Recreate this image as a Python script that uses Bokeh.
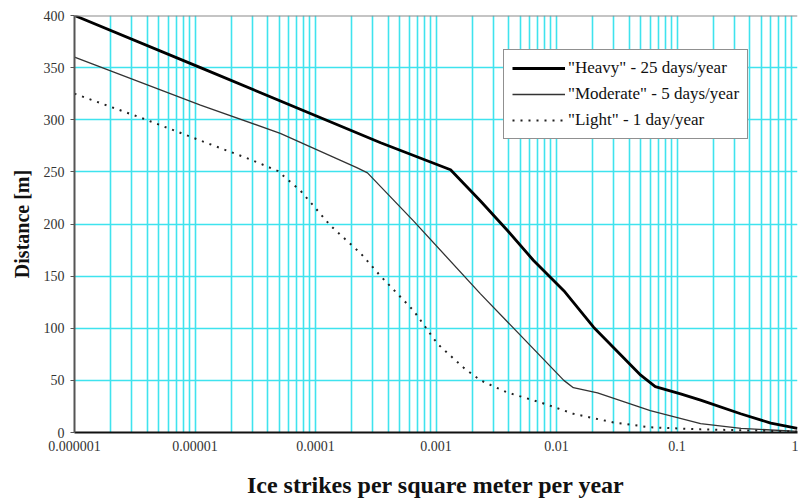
from bokeh.plotting import figure
from bokeh.models import (FixedTicker, CustomJSTickFormatter, Span, Legend, LegendItem)
from bokeh.embed import file_html
from bokeh.resources import INLINE

# ---- data ----
heavy_x = [1e-6, 1.11e-5, 3.47e-4, 1.32e-3, 2.34e-3, 3.9e-3, 6.45e-3, 1.15e-2,
           2.03e-2, 5.0e-2, 6.6e-2, 0.107, 0.157, 0.337, 0.6, 1.0]
heavy_y = [400, 350, 278, 252, 222, 194, 165, 136, 101, 55, 44, 37, 31, 18, 9, 4]

moderate_x = [1e-6, 1.11e-5, 5.1e-5, 2.2e-4, 2.7e-4, 6.5e-4, 2.34e-3, 1.15e-2,
              1.38e-2, 2.19e-2, 6.0e-2, 0.157, 0.34, 1.0]
moderate_y = [360, 314, 287, 254, 249, 203, 133, 50, 43, 38, 21, 8.6, 4, 1]

light_x = [1e-6, 3.74e-6, 1.11e-5, 2.73e-5, 4.84e-5, 7.5e-5, 1.33e-4, 2.36e-4,
           3.47e-4, 6.5e-4, 1.03e-3, 1.7e-3, 2.34e-3, 3.9e-3, 7.3e-3, 1.38e-2,
           2.97e-2, 6.0e-2, 0.157, 1.0]
light_y = [325, 301, 280, 263, 251, 232, 198.5, 172, 150, 117, 85, 62, 50, 38.4,
           29, 18, 9.6, 5, 3, 1]

series_labels = ['"Heavy" - 25 days/year', '"Moderate" - 5 days/year', '"Light" - 1 day/year']

x_ticks = [1e-6, 1e-5, 1e-4, 1e-3, 1e-2, 1e-1, 1.0]
x_tick_labels = ["0.000001", "0.00001", "0.0001", "0.001", "0.01", "0.1", "1"]
x_minor = [m * d for d in x_ticks[:-1] for m in range(2, 10)]
y_ticks = [0, 50, 100, 150, 200, 250, 300, 350, 400]

x_title = "Ice strikes per square meter per year"
y_title = "Distance [m]"

SERIF = "Liberation Serif"
CYAN = "#3fe3ee"

p = figure(width=798, height=502, x_axis_type="log",
           x_range=(1e-6, 1.0), y_range=(0, 400),
           output_backend="svg", toolbar_location=None,
           min_border_left=74, min_border_right=1, min_border_top=15,
           min_border_bottom=70)
p.outline_line_color = None
p.background_fill_color = "white"
p.border_fill_color = "white"

xt = FixedTicker(ticks=x_ticks, minor_ticks=x_minor)
p.xaxis.ticker = xt
p.xgrid.ticker = xt
p.xaxis.formatter = CustomJSTickFormatter(
    args=dict(vals=x_ticks, labs=x_tick_labels),
    code="""
    let best = 0, bd = 1e9;
    for (let i = 0; i < vals.length; i++) {
        const d = Math.abs(Math.log10(vals[i]) - Math.log10(tick));
        if (d < bd) { bd = d; best = i; }
    }
    return labs[best];
    """)
yt = FixedTicker(ticks=y_ticks)
p.yaxis.ticker = yt
p.ygrid.ticker = yt

# grids
p.xgrid.grid_line_color = CYAN
p.xgrid.grid_line_width = 1.6
p.xgrid.minor_grid_line_color = CYAN
p.xgrid.minor_grid_line_width = 1.6
p.ygrid.grid_line_color = CYAN
p.ygrid.grid_line_width = 1.6

# axes
p.xaxis.axis_line_color = "#111111"
p.xaxis.axis_line_width = 2
p.xaxis.major_tick_line_color = None
p.xaxis.minor_tick_line_color = None
p.xaxis.major_label_text_font = SERIF
p.xaxis.major_label_text_font_size = "14px"
p.xaxis.major_label_text_color = "#333333"
p.xaxis.major_label_standoff = 2
p.xaxis.axis_label = x_title
p.xaxis.axis_label_text_font = SERIF
p.xaxis.axis_label_text_font_size = "24px"
p.xaxis.axis_label_text_font_style = "bold"
p.xaxis.axis_label_text_color = "#111111"
p.xaxis.axis_label_standoff = 18

p.yaxis.axis_line_color = "#555555"
p.yaxis.axis_line_width = 2
p.yaxis.major_tick_line_color = "#555555"
p.yaxis.major_tick_in = 0
p.yaxis.major_tick_out = 4
p.yaxis.minor_tick_line_color = None
p.yaxis.major_label_text_font = SERIF
p.yaxis.major_label_text_font_size = "14px"
p.yaxis.major_label_text_color = "#333333"
p.yaxis.major_label_standoff = 6
p.yaxis.axis_label = y_title
p.yaxis.axis_label_text_font = SERIF
p.yaxis.axis_label_text_font_size = "20px"
p.yaxis.axis_label_text_font_style = "bold"
p.yaxis.axis_label_text_color = "#111111"
p.yaxis.axis_label_standoff = 8

# top frame line
p.add_layout(Span(location=400, dimension="width", line_color="#8a8a8a", line_width=2))

r_h = p.line(heavy_x, heavy_y, line_color="#000000", line_width=2.8)
r_m = p.line(moderate_x, moderate_y, line_color="#333333", line_width=1.3)
r_l = p.line(light_x, light_y, line_color="#222222", line_width=2, line_dash="2 6")

legend = Legend(items=[LegendItem(label=series_labels[0], renderers=[r_h]),
                       LegendItem(label=series_labels[1], renderers=[r_m]),
                       LegendItem(label=series_labels[2], renderers=[r_l])],
                location=(429, 293))
legend.border_line_color = "#222222"
legend.border_line_width = 1.3
legend.background_fill_color = "white"
legend.background_fill_alpha = 1.0
legend.label_text_font = SERIF
legend.label_text_font_size = "17px"
legend.label_text_color = "#111111"
legend.glyph_width = 53
legend.glyph_height = 20
legend.label_height = 20
legend.label_standoff = 3
legend.spacing = 6
legend.padding = 8
legend.margin = 0
p.add_layout(legend, "center")

open("out.html", "w").write(file_html(p, INLINE))
